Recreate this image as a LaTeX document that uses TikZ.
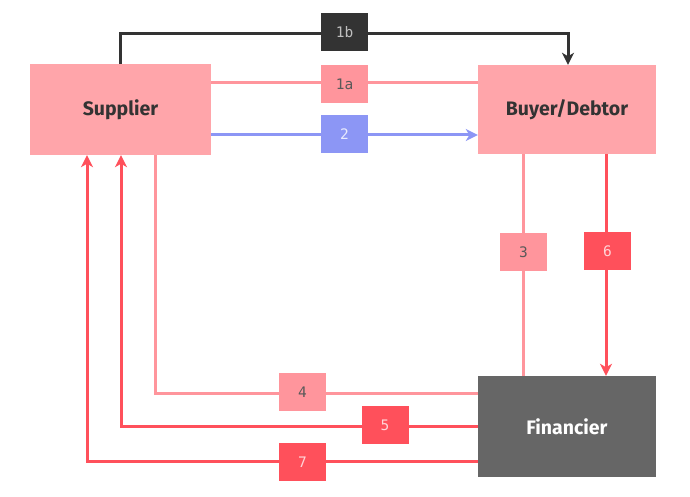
\documentclass[tikz,border=0pt]{standalone}
\usepackage{fontspec}
\setmainfont{Fira Sans}
\newfontfamily\tagfont{DejaVu Sans Mono}
\usetikzlibrary{arrows.meta}
\definecolor{boxpink}{HTML}{FFA5AA}
\definecolor{softred}{HTML}{FF959C}
\definecolor{hotred}{HTML}{FF505B}
\definecolor{flowblue}{HTML}{8C96F5}
\definecolor{inkdark}{HTML}{333333}
\definecolor{boxgrey}{HTML}{666666}
\begin{document}
\begin{tikzpicture}[x=1pt,y=-1pt,
    party/.style={rectangle, inner sep=0pt, font=\bfseries\fontsize{19.5}{22}\selectfont},
    tag/.style={rectangle, inner sep=0pt, minimum width=47pt, minimum height=38pt,
      font=\tagfont\fontsize{14.5}{16}\selectfont},
    flow/.style={line width=3pt},
    >={Stealth[length=12pt,width=12pt,inset=3.5pt]}]
  \useasboundingbox (0,0) rectangle (690,497);
  % parties
  \node[party, fill=boxpink, text=inkdark, minimum width=181pt, minimum height=91pt] (sup) at (120.5,109.5) {Supplier};
  \node[party, fill=boxpink, text=inkdark, minimum width=178pt, minimum height=89pt] (buy) at (567,109.5) {Buyer/Debtor};
  \node[party, fill=boxgrey, text=white, minimum width=178pt, minimum height=101pt] (fin) at (567,426.5) {Financier};
  % where the tags sit
  \coordinate (p1b) at (344.5,34);
  \coordinate (p1a) at (344.5,83);
  \coordinate (p2) at (344.5,135);
  \coordinate (p3) at (523.5,252);
  \coordinate (p6) at (606,251);
  \coordinate (k4) at (155.5,393);
  \coordinate (k5) at (121,426);
  \coordinate (k7) at (87,461);
  % flows
  \draw[flow, inkdark, ->] (sup.north) -- (sup.north |- p1b) -| ([xshift=1pt]buy.north);
  \draw[flow, softred] (sup.east |- p1a) -- (buy.west |- p1a);
  \draw[flow, flowblue, ->] (sup.east |- p2) -- (buy.west |- p2);
  \draw[flow, softred] (buy.south -| p3) -- (fin.north -| p3);
  \draw[flow, hotred, ->] (buy.south -| p6) -- (fin.north -| p6);
  \draw[flow, softred] (fin.west |- k4) -- (k4) -- (sup.south -| k4);
  \draw[flow, hotred, ->] (fin.west |- k5) -- (k5) -- (sup.south -| k5);
  \draw[flow, hotred, ->] (fin.west |- k7) -- (k7) -- (sup.south -| k7);
  % tags
  \node[tag, fill=inkdark, text=black!25] (t1b) at (344.5,32.5) {1b};
  \node[tag, fill=softred, text=black!65] (t1a) at (344.5,84) {1a};
  \node[tag, fill=flowblue, text=white!80!flowblue] (t2) at (344.5,134) {2};
  \node[tag, fill=softred, text=black!65] (t3) at (523.5,252) {3};
  \node[tag, fill=hotred, text=white!75!hotred] (t6) at (607.5,251) {6};
  \node[tag, fill=softred, text=black!65] (t4) at (302.5,392) {4};
  \node[tag, fill=hotred, text=white!75!hotred] (t5) at (385,425) {5};
  \node[tag, fill=hotred, text=white!75!hotred] (t7) at (302.5,462) {7};
\end{tikzpicture}
\end{document}
